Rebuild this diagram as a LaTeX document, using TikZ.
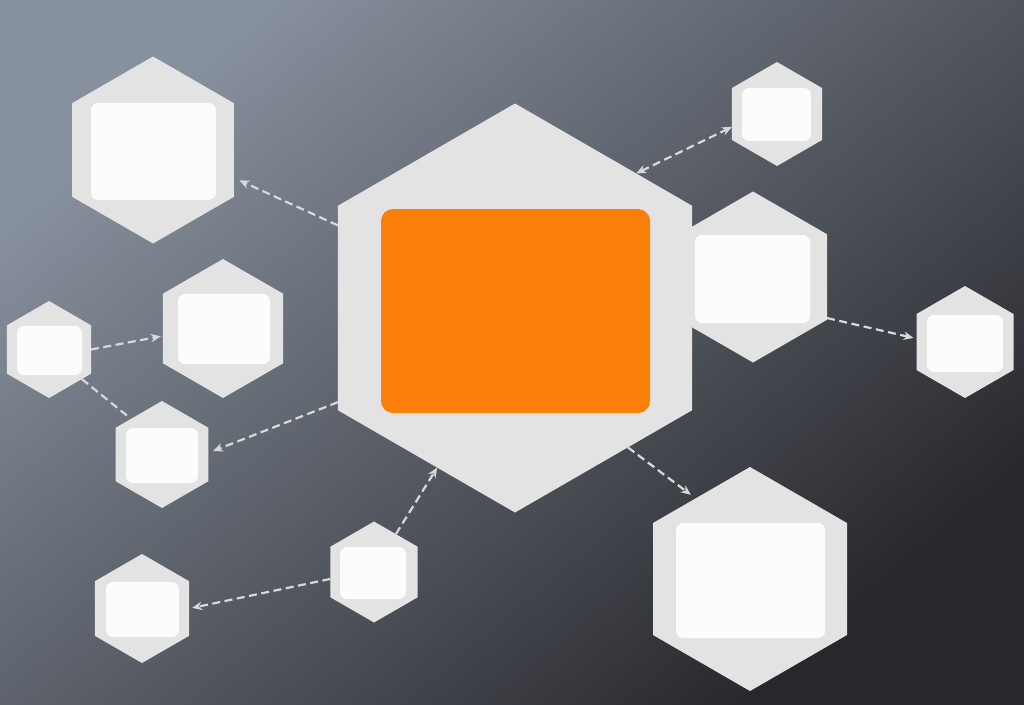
\documentclass[tikz,border=0pt]{standalone}
\usetikzlibrary{shapes.geometric,arrows.meta}
\definecolor{hexfill}{HTML}{E3E3E3}
\definecolor{boxfill}{HTML}{FCFCFC}
\definecolor{orangefill}{HTML}{FA7F0B}
\definecolor{linkcol}{HTML}{D8D8D8}
\definecolor{bgA}{HTML}{87909D}
\definecolor{bgB}{HTML}{565B63}
\definecolor{bgC}{HTML}{27282C}
\begin{document}
\begin{tikzpicture}[x=1pt,y=-1pt,
  hexnode/.style={regular polygon, regular polygon sides=6, shape border rotate=90,
    fill=hexfill, draw=none, inner sep=0pt, outer sep=0pt, minimum size=#1},
  boxnode/.style n args={2}{rectangle, fill=boxfill, draw=none, rounded corners=7pt,
    inner sep=0pt, outer sep=0pt, minimum width=#1, minimum height=#2},
  corebox/.style n args={2}{rectangle, fill=orangefill, draw=none, rounded corners=12pt,
    inner sep=0pt, outer sep=0pt, minimum width=#1, minimum height=#2},
  link/.style={draw=linkcol, line width=2.2pt, dash pattern=on 8pt off 4.5pt},
  >={Stealth[length=10pt,width=8.5pt]}
]
\useasboundingbox (0,0) rectangle (1024,704);
\shade[top color=bgA, middle color=bgB, bottom color=bgC, shading angle=40] (0,0) rectangle (1024,704);

% hexagons
\node[hexnode=171pt] (rm) at (753,277) {};
\node[boxnode={115pt}{88pt}] (rmbox) at (752.5,279) {};
\node[hexnode=409pt] (c) at (515,308) {};
\node[corebox={269pt}{204pt}] (cbox) at (515.5,311) {};
\node[hexnode=187pt] (tl) at (153,150) {};
\node[boxnode={125pt}{97pt}] (tlbox) at (153.5,151.5) {};
\node[hexnode=104pt] (tr) at (777,114) {};
\node[boxnode={69pt}{53pt}] (trbox) at (776.5,114.5) {};
\node[hexnode=112pt] (fr) at (965,342) {};
\node[boxnode={76pt}{57pt}] (frbox) at (965,343.5) {};
\node[hexnode=139pt] (lm) at (223,328.5) {};
\node[boxnode={92pt}{70pt}] (lmbox) at (224,329) {};
\node[hexnode=97pt] (fl) at (49,349.5) {};
\node[boxnode={65pt}{49pt}] (flbox) at (49.5,350.5) {};
\node[hexnode=107pt] (ll) at (162,454.5) {};
\node[boxnode={72pt}{55pt}] (llbox) at (162,455.5) {};
\node[hexnode=101pt] (bm) at (374,572) {};
\node[boxnode={66pt}{52pt}] (bmbox) at (373,573) {};
\node[hexnode=109pt] (bl) at (142,608.5) {};
\node[boxnode={73pt}{55pt}] (blbox) at (142.5,609.5) {};
\node[hexnode=224pt] (br) at (750,579) {};
\node[boxnode={149pt}{115pt}] (brbox) at (750.5,580.5) {};

% connectors
\draw[link,->,shorten >=6pt] (c.155.8) -- (tl.-19);
\draw[link,<->] (c.48.9) -- (tr.196.9);
\draw[link,->,shorten >=2pt] (fl.0.7) -- (lm.187.7);
\draw[link,shorten >=5pt] (fl.-42.7) -- (ll.131.5);
\draw[link,->,shorten >=5pt] (c.208.1) -- (ll.2.8);
\draw[link,->,shorten >=3pt] (rm.-29.8) -- (fr.176.7);
\draw[link,->,shorten >=6pt] (c.-51.7) -- (br.124);
\draw[link,->] (bm.60.6) -- (c.244.9);
\draw[link,->,shorten >=3pt] (bm.189) -- (bl.0.6);
\end{tikzpicture}
\end{document}
